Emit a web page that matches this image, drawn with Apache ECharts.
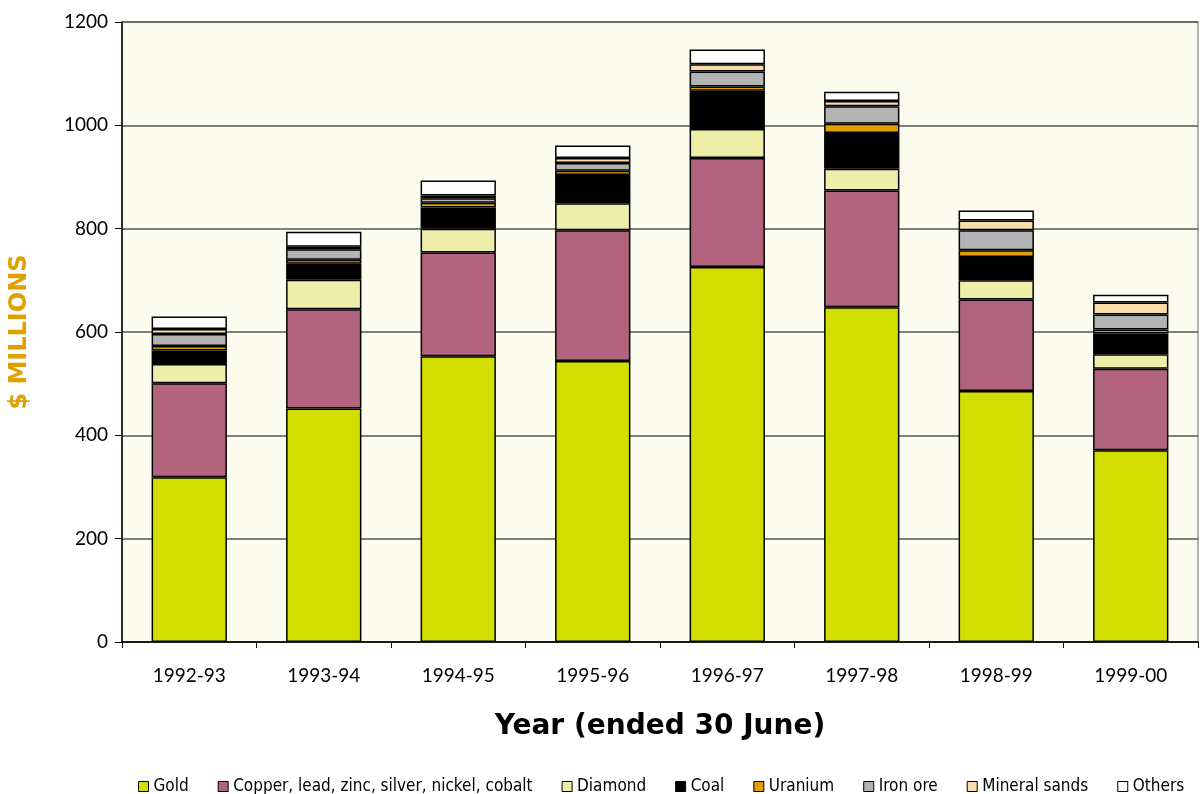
<!DOCTYPE html>
<html>
<head>
<meta charset="utf-8">
<script src="https://cdn.jsdelivr.net/npm/echarts@6/dist/echarts.min.js"></script>
<style>
html,body{margin:0;padding:0;background:#fff;}
#c{width:1200px;height:794px;}
</style>
</head>
<body>
<div id="c"></div>
<script>
const categories = ['1992-93','1993-94','1994-95','1995-96','1996-97','1997-98','1998-99','1999-00'];
const gold     = [319, 452, 553, 544, 726, 648, 486, 371];
const copper   = [182, 192, 201, 253, 211, 226, 177, 158];
const diamond  = [37, 57, 46, 52, 56, 42, 37, 28];
const coal     = [26, 31, 41, 55, 74, 69, 45, 40];
const uranium  = [9, 8, 9, 8, 8, 18, 13, 8];
const ironOre  = [23, 20, 9, 15, 29, 34, 39, 29];
const mineral  = [10, 5, 5, 10, 14, 10, 19, 23];
const others   = [24, 29, 29, 24, 29, 18, 19, 15];
const yTicks = [0, 200, 400, 600, 800, 1000, 1200];

const seriesDefs = [
  ['Gold', gold, '#D2DE00'],
  ['Copper, lead, zinc, silver, nickel, cobalt', copper, '#B2647F'],
  ['Diamond', diamond, '#EEEEAA'],
  ['Coal', coal, '#000000'],
  ['Uranium', uranium, '#E0A000'],
  ['Iron ore', ironOre, '#B3B3B3'],
  ['Mineral sands', mineral, '#F8DCAA'],
  ['Others', others, '#FFFFFF']
];

const chart = echarts.init(document.getElementById('c'));
chart.setOption({
  animation: false,
  backgroundColor: '#ffffff',
  textStyle: { fontFamily: 'Lato' },
  grid: {
    left: 120, right: 2, top: 22, bottom: 152,
    show: true, backgroundColor: '#FBFBEE', borderColor: '#9a9a9a', borderWidth: 1.5
  },
  legend: {
    top: 778,
    left: 138,
    padding: 0,
    itemWidth: 10, itemHeight: 10,
    itemGap: 29,
    icon: 'rect',
    textStyle: { fontFamily: 'DejaVu Sans Condensed', fontSize: 17, color: '#000', padding: [0, 0, 0, 0] },
    itemStyle: { borderColor: '#000', borderWidth: 1 },
    data: seriesDefs.map(s => s[0])
  },
  xAxis: {
    type: 'category',
    data: categories,
    name: 'Year (ended 30 June)',
    nameLocation: 'middle',
    nameGap: 71,
    nameTextStyle: { fontFamily: 'DejaVu Sans', fontWeight: 'bold', fontSize: 28, color: '#000' },
    axisLine: { lineStyle: { color: '#000', width: 1.5 } },
    axisTick: { show: true, length: 6, lineStyle: { color: '#000' } },
    axisLabel: { fontSize: 19, color: '#000', margin: 24 }
  },
  yAxis: {
    type: 'value',
    min: 0, max: 1200, interval: 200,
    name: '$ MILLIONS',
    nameLocation: 'middle',
    nameGap: 90,
    nameRotate: 90,
    nameTextStyle: { fontFamily: 'DejaVu Sans', fontWeight: 'bold', fontSize: 24, color: '#E0A000' },
    axisLine: { show: true, lineStyle: { color: '#000', width: 1.5 } },
    axisTick: { show: true, length: 7, lineStyle: { color: '#000' } },
    axisLabel: { fontSize: 19, color: '#000', margin: 14,
      formatter: v => yTicks.includes(v) ? String(v) : '' },
    splitLine: { show: true, lineStyle: { color: '#555', width: 1.5 } }
  },
  series: seriesDefs.map(s => ({
    name: s[0],
    type: 'bar',
    stack: 'total',
    data: s[1],
    barWidth: '56%',
    itemStyle: { color: s[2], borderColor: '#000', borderWidth: 1.5 }
  }))
});
</script>
</body>
</html>
